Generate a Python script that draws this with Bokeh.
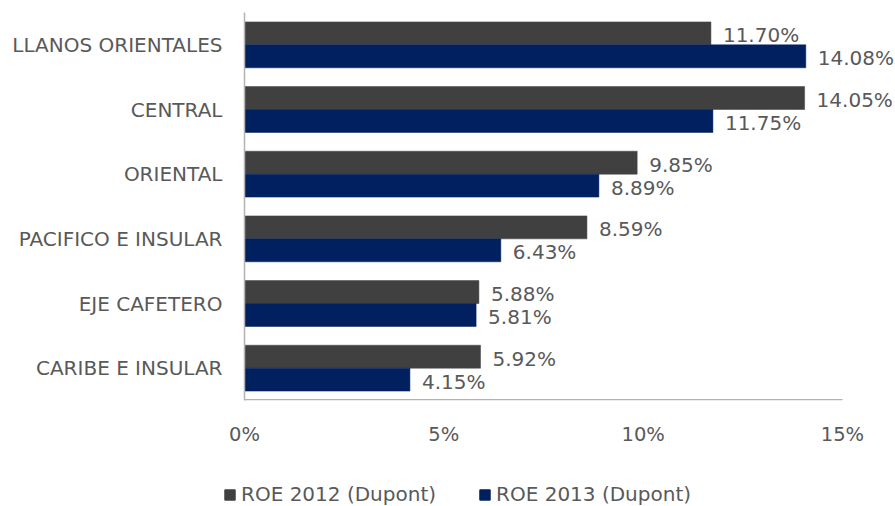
from bokeh.plotting import figure
from bokeh.models import FactorRange, Range1d, FixedTicker, PrintfTickFormatter, Legend, LegendItem, ColumnDataSource
from bokeh.transform import dodge
from bokeh.layouts import column
from bokeh.core.properties import value
from bokeh.embed import file_html
from bokeh.resources import INLINE

categories = ["LLANOS ORIENTALES", "CENTRAL", "ORIENTAL", "PACIFICO E INSULAR", "EJE CAFETERO", "CARIBE E INSULAR"]
roe_2012 = [11.70, 14.05, 9.85, 8.59, 5.88, 5.92]
roe_2013 = [14.08, 11.75, 8.89, 6.43, 5.81, 4.15]
series_names = ["ROE 2012 (Dupont)", "ROE 2013 (Dupont)"]
x_ticks = [0, 5, 10, 15]

FONT = "DejaVu Sans"
FSIZE = "20px"
TSIZE = "19.5px"
TXT = "#595959"
AXIS = "#b3b3b3"
C2012 = "#404040"
C2013 = "#002060"

src = ColumnDataSource(dict(
    cat=categories,
    v12=roe_2012,
    v13=roe_2013,
    l12=["%.2f%%" % v for v in roe_2012],
    l13=["%.2f%%" % v for v in roe_2013],
))

W = 895
p = figure(width=W, height=460, output_backend="svg", toolbar_location=None,
           y_range=FactorRange(factors=list(reversed(categories))),
           x_range=Range1d(0, 16.33))
p.min_border_left = 244
p.min_border_right = 0
p.min_border_top = 12
p.min_border_bottom = 60
p.outline_line_color = None
p.xgrid.visible = False
p.ygrid.visible = False

bh = 0.355
r12 = p.hbar(y=dodge("cat", bh / 2, range=p.y_range), right="v12", left=0, height=bh,
             source=src, fill_color=C2012, line_color=C2012, line_width=0.5)
r13 = p.hbar(y=dodge("cat", -bh / 2, range=p.y_range), right="v13", left=0, height=bh,
             source=src, fill_color=C2013, line_color=C2013, line_width=0.5)

p.text(x="v12", y=dodge("cat", bh / 2, range=p.y_range), text="l12", source=src,
       x_offset=12, y_offset=2, text_baseline="middle", text_align="left",
       text_font=value(FONT), text_font_size=FSIZE, text_color=TXT)
p.text(x="v13", y=dodge("cat", -bh / 2, range=p.y_range), text="l13", source=src,
       x_offset=12, y_offset=2, text_baseline="middle", text_align="left",
       text_font=value(FONT), text_font_size=FSIZE, text_color=TXT)

# horizontal axis baseline, ending at the last tick (15%)
base = ColumnDataSource(dict(y=[categories[-1]], x0=[x_ticks[0]], x1=[x_ticks[-1]]))
p.segment(x0="x0", x1="x1", y0=dodge("y", -0.488, range=p.y_range),
          y1=dodge("y", -0.488, range=p.y_range), source=base,
          line_color=AXIS, line_width=1.5)

for ax in (p.xaxis[0], p.yaxis[0]):
    ax.major_tick_line_color = None
    ax.minor_tick_line_color = None
    ax.major_tick_out = 0
    ax.major_tick_in = 0
    ax.major_label_text_font = FONT
    ax.major_label_text_color = TXT

p.yaxis.axis_line_color = AXIS
p.yaxis.axis_line_width = 1.5
p.yaxis.major_label_text_font_size = FSIZE
p.yaxis.major_label_standoff = 22
p.xaxis.axis_line_color = None
p.xaxis.major_label_text_font_size = TSIZE
p.xaxis.ticker = FixedTicker(ticks=x_ticks)
p.xaxis.formatter = PrintfTickFormatter(format="%d%%")
p.xaxis.major_label_standoff = 22

# legend strip (its swatch renderers sit outside the strip's visible range)
leg = figure(width=W, height=46, output_backend="svg", toolbar_location=None,
             x_axis_location=None, y_axis_location=None,
             x_range=Range1d(0, 1), y_range=Range1d(0, 1))
leg.min_border = 0
leg.outline_line_color = None
leg.xgrid.visible = False
leg.ygrid.visible = False
leg.styles = {"margin-left": "-21px"}
swatch = ColumnDataSource(dict(y=[-5.0], right=[-5.0]))
d12 = leg.hbar(y="y", right="right", height=0.5, source=swatch, fill_color=C2012, line_color=C2012)
d13 = leg.hbar(y="y", right="right", height=0.5, source=swatch, fill_color=C2013, line_color=C2013)
legend = Legend(items=[LegendItem(label=value(series_names[0]), renderers=[d12]),
                       LegendItem(label=value(series_names[1]), renderers=[d13])],
                orientation="horizontal", location=(0, 0),
                padding=0, margin=0, spacing=42,
                glyph_width=13, glyph_height=13, label_standoff=5,
                label_text_font=FONT, label_text_font_size=FSIZE, label_text_color=TXT,
                background_fill_alpha=0, border_line_color=None)
leg.add_layout(legend, "center")

layout = column(p, leg, spacing=0)
open("out.html", "w").write(file_html(layout, INLINE))
